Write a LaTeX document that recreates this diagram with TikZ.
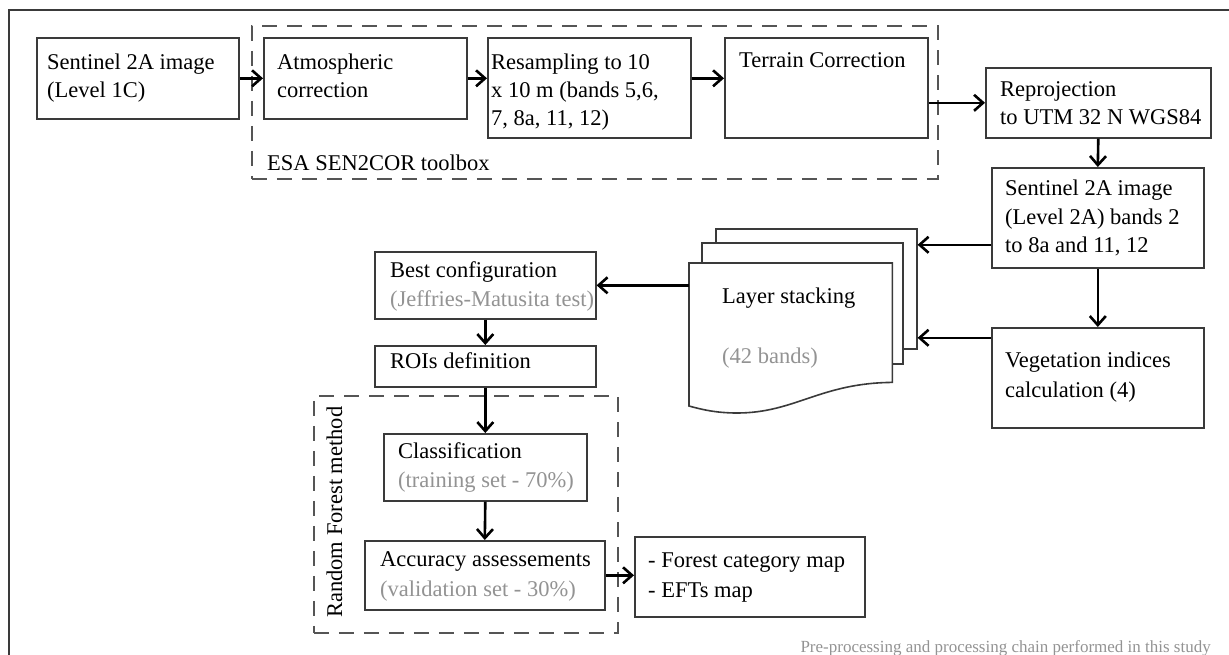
\documentclass[tikz,border=0pt]{standalone}
\usepackage{fontspec}
\setmainfont{Liberation Serif}
\usetikzlibrary{arrows.meta}
\definecolor{boxc}{HTML}{3A3A3A}
\definecolor{greyt}{HTML}{939393}
\definecolor{dashc}{HTML}{555555}
\begin{document}
\begin{tikzpicture}[x=1pt,y=-1pt,
  box/.style={draw=boxc, line width=1.6pt, inner sep=0pt, anchor=north west, fill=white},
  page/.style={box},
  ghost/.style={inner sep=0pt, anchor=north west},
  dbox/.style={draw=dashc, line width=1.5pt, dash pattern=on 15pt off 10pt, inner sep=0pt, anchor=north west},
  txt/.style={anchor=base west, inner sep=0pt, font=\fontsize{22.5}{29}\selectfont, text=black},
  gtxt/.style={txt, text=greyt},
  arr/.style={line width=2.6pt, -{Straight Barb[length=9pt,width=16pt]}},
]
\useasboundingbox (0,0) rectangle (1229,654);
% frame
\coordinate (fbl) at (9,660);
\coordinate (ftl) at (9,10);
\coordinate (ftr) at (1235,10);
\draw[draw=boxc, line width=2pt] (fbl) -- (ftl) -- (ftr);

% dashed groups
\node[dbox, minimum width=686pt, minimum height=153pt] (esa) at (251,25) {};
\node[dbox, minimum width=304pt, minimum height=237pt] (rf) at (313,395) {};

% boxes
\node[box, minimum width=202pt, minimum height=81pt] (b1) at (36,37) {};
\node[box, minimum width=203pt, minimum height=81pt] (atm) at (263,37) {};
\node[box, minimum width=203pt, minimum height=100pt] (res) at (487,37) {};
\node[box, minimum width=203pt, minimum height=100pt] (ter) at (724,37) {};
\node[box, minimum width=225pt, minimum height=70pt] (rep) at (985,67) {};
\node[box, minimum width=212pt, minimum height=100pt] (l2a) at (991,167) {};
\node[box, minimum width=212pt, minimum height=100pt] (veg) at (991,327) {};
\node[box, minimum width=221pt, minimum height=67pt] (best) at (374,251) {};
\node[box, minimum width=221pt, minimum height=41pt] (roi) at (374,345) {};
\node[box, minimum width=203pt, minimum height=67pt] (cls) at (383,433) {};
\node[box, minimum width=240pt, minimum height=69pt] (acc) at (364,540) {};
\node[box, minimum width=230pt, minimum height=80pt] (out) at (634,536) {};

% layer stack
\node[page, minimum width=201pt, minimum height=120pt] (back) at (715,228) {};
\node[page, minimum width=201pt, minimum height=121pt] (mid) at (701,242) {};
\node[ghost, minimum width=203pt, minimum height=119pt] (front) at (689,263) {};
\path[draw=boxc, line width=1.6pt, fill=white] (front.north west) -- (front.north east) -- (front.south east)
  .. controls (820,383) and (795,413) .. (737,413)
  .. controls (715,413) and (700,409) .. (689,406) -- cycle;

% arrows
\draw[arr] (b1.east) -- (atm.west);
\draw[arr] (atm.east) -- (atm.east -| res.west);
\draw[arr] (res.east |- atm.east) -- (ter.west |- atm.east);
\draw[arr] (ter.east |- rep.west) -- (rep.west);
\draw[arr] (rep.south) -- (l2a.north);
\draw[arr] (l2a.south) -- (veg.north);
\coordinate (a1) at ([yshift=-27pt]l2a.west);
\draw[arr] (a1) -- (a1 -| back.east);
\coordinate (a2) at ([yshift=40pt]veg.west);
\draw[arr] (a2) -- (a2 -| back.east);
\draw[arr] (front.west |- best.east) -- (best.east);
\draw[arr] (best.south) -- (roi.north);
\draw[arr] (roi.south) -- (cls.north);
\draw[arr] (cls.south) -- (acc.north);
\draw[arr] (acc.east) -- (acc.east -| out.west);

% texts
\node[txt] (t1a) at (47,69) {Sentinel 2A image};
\node[txt] (t1b) at (47,97) {(Level 1C)};
\node[txt] (t2a) at (277,69) {Atmospheric};
\node[txt] (t2b) at (277,97) {correction};
\node[txt] (t3a) at (491,69) {Resampling to 10};
\node[txt] (t3b) at (491,97) {x 10 m (bands 5,6,};
\node[txt] (t3c) at (491,125) {7, 8a, 11, 12)};
\node[txt] (t4a) at (739,67) {Terrain Correction};
\node[txt] (t5a) at (1000,96) {Reprojection};
\node[txt] (t5b) at (1000,124) {to UTM 32 N WGS84};
\node[txt] (t6a) at (1005,195) {Sentinel 2A image};
\node[txt] (t6b) at (1005,224) {(Level 2A) bands 2};
\node[txt] (t6c) at (1005,252) {to 8a and 11, 12};
\node[txt] (t7a) at (1005,367) {Vegetation indices};
\node[txt] (t7b) at (1005,397) {calculation (4)};
\node[txt] (t8a) at (722,303) {Layer stacking};
\node[gtxt] (t8b) at (722,363) {(42 bands)};
\node[txt] (t9a) at (390,277) {Best configuration};
\node[gtxt] (t9b) at (390,306) {(Jeffries-Matusita test)};
\node[txt] (t10a) at (390,368) {ROIs definition};
\node[txt] (t11a) at (398,458) {Classification};
\node[gtxt] (t11b) at (398,487) {(training set - 70\%)};
\node[txt] (t12a) at (380,566) {Accuracy assessements};
\node[gtxt] (t12b) at (380,596) {(validation set - 30\%)};
\node[txt] (t13a) at (648,567) {- Forest category map};
\node[txt] (t13b) at (648,597) {- EFTs map};
\node[txt] (esal) at (267,170) {ESA SEN2COR toolbox};
\node[txt, rotate=90] (rfl) at (342,618) {Random Forest method};
\node[anchor=base east, inner sep=0pt, font=\fontsize{17}{20}\selectfont, text=greyt] (cap) at (1211,652) {Pre-processing and processing chain performed in this study};
\end{tikzpicture}
\end{document}
